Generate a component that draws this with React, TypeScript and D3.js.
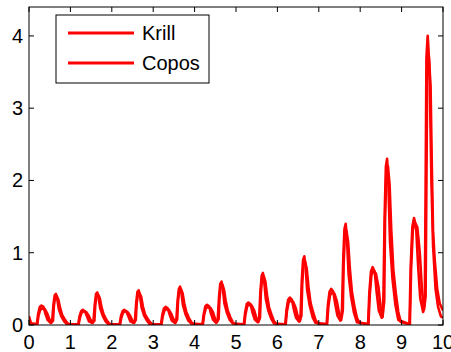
import React from "react";
import * as d3 from "d3";

const xTicks = [0, 1, 2, 3, 4, 5, 6, 7, 8, 9, 10];
const yTicks = [0, 1, 2, 3, 4];
const seriesNames = ["Krill", "Copos"];

const krill: [number, number][] = [
  [0.0, 0.1], [0.04, 0.02], [0.19, 0.01], [0.22, 0.15], [0.26, 0.25], [0.3, 0.27], [0.35, 0.25], [0.4, 0.15], [0.45, 0.07], [0.52, 0.03],
  [0.56, 0.06], [0.59, 0.28], [0.62, 0.41], [0.65, 0.43], [0.68, 0.37], [0.72, 0.22], [0.78, 0.12], [0.85, 0.05], [0.92, 0.01],
  [1.19, 0.01], [1.22, 0.12], [1.26, 0.19], [1.3, 0.21], [1.35, 0.19], [1.4, 0.12], [1.45, 0.05], [1.52, 0.03],
  [1.56, 0.07], [1.59, 0.29], [1.62, 0.43], [1.65, 0.45], [1.68, 0.38], [1.72, 0.23], [1.78, 0.13], [1.85, 0.05], [1.92, 0.01],
  [2.19, 0.01], [2.22, 0.12], [2.26, 0.19], [2.3, 0.21], [2.35, 0.19], [2.4, 0.12], [2.45, 0.05], [2.52, 0.03],
  [2.56, 0.07], [2.59, 0.31], [2.62, 0.46], [2.65, 0.48], [2.68, 0.41], [2.72, 0.24], [2.78, 0.13], [2.85, 0.06], [2.92, 0.01],
  [3.19, 0.01], [3.22, 0.14], [3.26, 0.23], [3.3, 0.25], [3.35, 0.23], [3.4, 0.14], [3.45, 0.06], [3.52, 0.03],
  [3.56, 0.08], [3.59, 0.34], [3.62, 0.5], [3.65, 0.53], [3.68, 0.45], [3.72, 0.27], [3.78, 0.15], [3.85, 0.06], [3.92, 0.02],
  [4.19, 0.01], [4.22, 0.15], [4.26, 0.26], [4.3, 0.28], [4.35, 0.26], [4.4, 0.15], [4.45, 0.07], [4.52, 0.03],
  [4.56, 0.09], [4.59, 0.39], [4.62, 0.57], [4.65, 0.6], [4.68, 0.51], [4.72, 0.3], [4.78, 0.17], [4.85, 0.07], [4.92, 0.02],
  [5.19, 0.01], [5.22, 0.17], [5.26, 0.29], [5.3, 0.31], [5.35, 0.29], [5.4, 0.17], [5.45, 0.08], [5.52, 0.04],
  [5.56, 0.11], [5.59, 0.47], [5.62, 0.68], [5.65, 0.72], [5.68, 0.61], [5.72, 0.36], [5.78, 0.2], [5.85, 0.09], [5.92, 0.02],
  [6.19, 0.01], [6.22, 0.21], [6.26, 0.35], [6.3, 0.38], [6.35, 0.35], [6.4, 0.21], [6.45, 0.1], [6.52, 0.05],
  [6.56, 0.14], [6.59, 0.62], [6.62, 0.9], [6.65, 0.95], [6.68, 0.81], [6.72, 0.48], [6.78, 0.27], [6.85, 0.11], [6.92, 0.03],
  [7.19, 0.01], [7.22, 0.28], [7.26, 0.46], [7.3, 0.5], [7.35, 0.46], [7.4, 0.28], [7.45, 0.13], [7.52, 0.06],
  [7.56, 0.21], [7.59, 0.91], [7.62, 1.33], [7.65, 1.4], [7.68, 1.19], [7.72, 0.7], [7.78, 0.39], [7.85, 0.17], [7.92, 0.04],
  [8.19, 0.01], [8.22, 0.44], [8.26, 0.74], [8.3, 0.8], [8.35, 0.74], [8.4, 0.44], [8.45, 0.2], [8.52, 0.1],
  [8.56, 0.35], [8.59, 1.5], [8.62, 2.19], [8.65, 2.3], [8.68, 1.96], [8.72, 1.15], [8.78, 0.64], [8.85, 0.28], [8.92, 0.07],
  [9.19, 0.01], [9.22, 0.81], [9.26, 1.36], [9.3, 1.48], [9.35, 1.36], [9.4, 0.81], [9.45, 0.37], [9.52, 0.18],
  [9.56, 0.3], [9.58, 1.9], [9.6, 3.7], [9.63, 4.0], [9.66, 3.7], [9.68, 3.4], [9.72, 2.0], [9.76, 1.1], [9.82, 0.5], [9.88, 0.25], [9.95, 0.12], [10.0, 0.1],
];

const copos: [number, number][] = [
  [0.0, 0.12], [0.05, 0.02], [0.2, 0.01], [0.23, 0.13], [0.27, 0.21], [0.32, 0.23], [0.38, 0.22], [0.44, 0.16], [0.49, 0.08], [0.54, 0.03],
  [0.58, 0.06], [0.6, 0.26], [0.63, 0.38], [0.67, 0.4], [0.71, 0.35], [0.75, 0.24], [0.8, 0.14], [0.86, 0.08], [0.92, 0.03], [0.98, 0.01],
  [1.2, 0.01], [1.23, 0.1], [1.27, 0.17], [1.32, 0.19], [1.38, 0.18], [1.44, 0.13], [1.49, 0.07], [1.54, 0.03],
  [1.58, 0.06], [1.6, 0.27], [1.63, 0.4], [1.67, 0.42], [1.71, 0.37], [1.75, 0.25], [1.8, 0.15], [1.86, 0.08], [1.92, 0.03], [1.98, 0.01],
  [2.2, 0.01], [2.23, 0.1], [2.27, 0.17], [2.32, 0.19], [2.38, 0.18], [2.44, 0.13], [2.49, 0.07], [2.54, 0.03],
  [2.58, 0.07], [2.6, 0.29], [2.63, 0.42], [2.67, 0.44], [2.71, 0.39], [2.75, 0.26], [2.8, 0.15], [2.86, 0.09], [2.92, 0.04], [2.98, 0.01],
  [3.2, 0.01], [3.23, 0.12], [3.27, 0.2], [3.32, 0.22], [3.38, 0.21], [3.44, 0.15], [3.49, 0.08], [3.54, 0.03],
  [3.58, 0.08], [3.6, 0.33], [3.63, 0.48], [3.67, 0.5], [3.71, 0.44], [3.75, 0.3], [3.8, 0.18], [3.86, 0.1], [3.92, 0.04], [3.98, 0.01],
  [4.2, 0.01], [4.23, 0.14], [4.27, 0.23], [4.32, 0.25], [4.38, 0.24], [4.44, 0.18], [4.49, 0.09], [4.54, 0.04],
  [4.58, 0.08], [4.6, 0.36], [4.63, 0.53], [4.67, 0.56], [4.71, 0.49], [4.75, 0.34], [4.8, 0.2], [4.86, 0.11], [4.92, 0.04], [4.98, 0.01],
  [5.2, 0.01], [5.23, 0.15], [5.27, 0.26], [5.32, 0.28], [5.38, 0.27], [5.44, 0.2], [5.49, 0.1], [5.54, 0.04],
  [5.58, 0.1], [5.6, 0.44], [5.63, 0.65], [5.67, 0.68], [5.71, 0.6], [5.75, 0.41], [5.8, 0.24], [5.86, 0.14], [5.92, 0.05], [5.98, 0.01],
  [6.2, 0.01], [6.23, 0.19], [6.27, 0.31], [6.32, 0.34], [6.38, 0.32], [6.44, 0.24], [6.49, 0.12], [6.54, 0.05],
  [6.58, 0.13], [6.6, 0.57], [6.63, 0.84], [6.67, 0.88], [6.71, 0.77], [6.75, 0.53], [6.8, 0.31], [6.86, 0.18], [6.92, 0.07], [6.98, 0.02],
  [7.2, 0.01], [7.23, 0.25], [7.27, 0.41], [7.32, 0.45], [7.38, 0.43], [7.44, 0.32], [7.49, 0.16], [7.54, 0.07],
  [7.58, 0.2], [7.6, 0.85], [7.63, 1.24], [7.67, 1.3], [7.71, 1.14], [7.75, 0.78], [7.8, 0.46], [7.86, 0.26], [7.92, 0.1], [7.98, 0.03],
  [8.2, 0.01], [8.23, 0.41], [8.27, 0.69], [8.32, 0.75], [8.38, 0.71], [8.44, 0.53], [8.49, 0.26], [8.54, 0.11],
  [8.58, 0.33], [8.6, 1.43], [8.63, 2.09], [8.67, 2.2], [8.71, 1.94], [8.75, 1.32], [8.8, 0.77], [8.86, 0.44], [8.92, 0.18], [8.98, 0.04],
  [9.2, 0.01], [9.23, 0.78], [9.27, 1.31], [9.32, 1.42], [9.38, 1.35], [9.44, 0.99], [9.49, 0.5], [9.54, 0.21],
  [9.58, 0.4], [9.6, 2.0], [9.62, 3.5], [9.66, 3.7], [9.7, 3.3], [9.73, 2.2], [9.76, 1.3], [9.8, 0.9], [9.86, 0.5], [9.92, 0.3], [10.0, 0.2],
];

const W = 451;
const H = 352;
const M = { left: 29, right: 443, top: 7, bottom: 325 };
const FONT = "'Liberation Sans', Arial, Helvetica, sans-serif";

export default function App() {
  const x = d3.scaleLinear().domain([0, 10]).range([M.left, M.right]);
  const y = d3.scaleLinear().domain([0, 4.4]).range([M.bottom, M.top]);
  const line = d3
    .line<[number, number]>()
    .x((d) => x(d[0]))
    .y((d) => y(d[1]));
  const tl = 5;
  return (
    <svg
      width={W}
      height={H}
      style={{ position: "absolute", left: 0, top: 0, background: "#fff" }}
      fontFamily={FONT}
    >
      <rect x={0} y={0} width={W} height={H} fill="#fff" />
      <defs>
        <clipPath id="plotclip">
          <rect x={M.left} y={M.top} width={M.right - M.left} height={M.bottom - M.top} />
        </clipPath>
      </defs>
      <g clipPath="url(#plotclip)">
        {[krill, copos].map((s, i) => (
          <path
            key={i}
            d={line(s) || ""}
            fill="none"
            stroke="#ff0000"
            strokeWidth={2.6}
            strokeLinejoin="round"
          />
        ))}
      </g>
      <rect
        x={M.left}
        y={M.top}
        width={M.right - M.left}
        height={M.bottom - M.top}
        fill="none"
        stroke="#000"
        strokeWidth={1}
      />
      {xTicks.map((t) => (
        <g key={"x" + t}>
          <line x1={x(t)} x2={x(t)} y1={M.bottom} y2={M.bottom - tl} stroke="#000" />
          <line x1={x(t)} x2={x(t)} y1={M.top} y2={M.top + tl} stroke="#000" />
          <text x={x(t)} y={349} fontSize={20} textAnchor="middle" fill="#000">
            {t}
          </text>
        </g>
      ))}
      {yTicks.map((t) => (
        <g key={"y" + t}>
          <line x1={M.left} x2={M.left + tl} y1={y(t)} y2={y(t)} stroke="#000" />
          <line x1={M.right} x2={M.right - tl} y1={y(t)} y2={y(t)} stroke="#000" />
          <text x={23} y={y(t) + 7} fontSize={20} textAnchor="end" fill="#000">
            {t}
          </text>
        </g>
      ))}
      <rect x={56} y={15} width={153} height={68} fill="#fff" stroke="#000" strokeWidth={1} />
      {seriesNames.map((n, i) => (
        <g key={n}>
          <line x1={68} x2={134} y1={33 + i * 30} y2={33 + i * 30} stroke="#ff0000" strokeWidth={3} />
          <text x={142} y={40 + i * 30} fontSize={20} fill="#000">
            {n}
          </text>
        </g>
      ))}
    </svg>
  );
}
